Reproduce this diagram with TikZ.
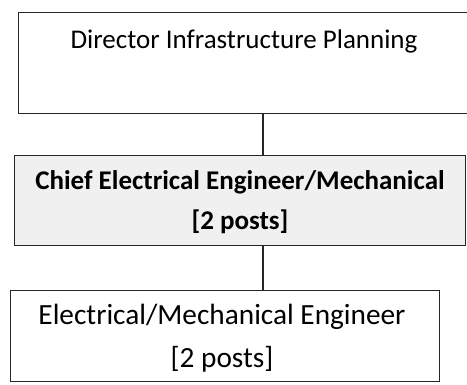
\documentclass[tikz,border=0pt]{standalone}
\usepackage{fontspec}
\setmainfont{Carlito}
\begin{document}
\begin{tikzpicture}[x=1pt,y=-1pt,
  box/.style={draw=black!85,line width=1.4pt,inner sep=0pt},
  label/.style={anchor=base,inner sep=0pt,align=center},
  link/.style={draw=black!85,line width=1.4pt}]
  \useasboundingbox (0,0) rectangle (467,385);
  % boxes
  \node[box,minimum width=454pt,minimum height=101pt,anchor=north west] (dir) at (18,12) {};
  \node[box,fill=black!6,minimum width=451pt,minimum height=90pt,anchor=north west] (chief) at (14,155) {};
  \node[box,minimum width=429pt,minimum height=91pt,anchor=north west] (eng) at (10,290) {};
  % texts
  \node[label,font=\fontsize{27}{32}\selectfont] (t1) at (244,49) {Director Infrastructure Planning};
  \node[label,font=\fontsize{27}{34}\selectfont\bfseries] (t2a) at (240,190) {Chief Electrical Engineer/Mechanical};
  \node[label,font=\fontsize{27}{34}\selectfont\bfseries] (t2b) at (240,230) {[2 posts]};
  \node[label,font=\fontsize{29.3}{34}\selectfont] (t3a) at (222,325) {Electrical/Mechanical Engineer};
  \node[label,font=\fontsize{29.3}{34}\selectfont] (t3b) at (222,368) {[2 posts]};
  % connectors
  \coordinate (spine) at (263,0);
  \draw[link] (dir.south -| spine) -- (chief.north -| spine);
  \draw[link] (chief.south -| spine) -- (eng.north -| spine);
\end{tikzpicture}
\end{document}
